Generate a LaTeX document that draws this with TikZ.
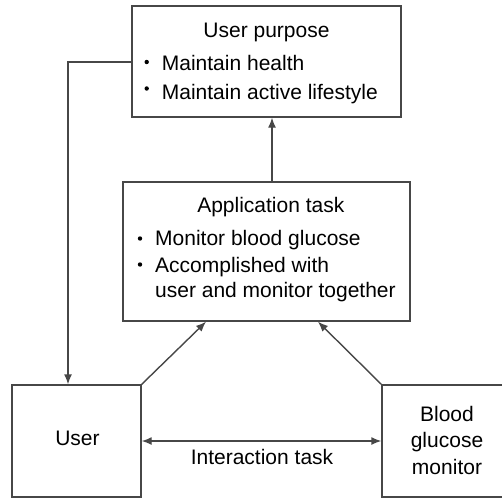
\documentclass[tikz,border=0pt]{standalone}
\usepackage{fontspec}
\setmainfont{Liberation Sans}
\usetikzlibrary{arrows.meta}
\definecolor{lc}{rgb}{0.28,0.28,0.28}
\definecolor{tc}{rgb}{0,0,0}
\begin{document}
\begin{tikzpicture}[x=1pt,y=-1pt,
  box/.style={draw=lc,line width=1.4pt,inner sep=0pt},
  txt/.style={anchor=base,inner sep=0pt,text=tc,font=\fontsize{21}{26}\selectfont},
  txtl/.style={txt,anchor=base west},
  dot/.style={circle,fill=tc,inner sep=0pt,minimum size=4.4pt},
  arr/.style={draw=lc,line width=1.4pt,-{Latex[length=10pt,width=8pt]}},
  arrs/.style={draw=lc,line width=1.4pt,{Latex[length=10pt,width=8pt]}-{Latex[length=10pt,width=8pt]}},
  ln/.style={draw=lc,line width=1.4pt}]
\useasboundingbox (0,0) rectangle (502,498);
\clip (0,0) rectangle (502,498);
% User purpose
\node[box,minimum width=269pt,minimum height=111pt] (up) at (266.5,61.5) {};
\node[txt] (uptitle) at (266.5,37.3) {User purpose};
\node[dot] (ub1) at (146.7,62) {};
\node[txtl] (ut1) at (161.7,70.7) {Maintain health};
\node[dot] (ub2) at (146.7,88.5) {};
\node[txtl] (ut2) at (161.7,99.3) {Maintain active lifestyle};
% Application task
\node[box,minimum width=287pt,minimum height=139pt] (app) at (266.5,251.5) {};
\node[txt] (apptitle) at (270.8,212.7) {Application task};
\node[dot] (ab1) at (140,238.5) {};
\node[txtl] (at1) at (155,245) {Monitor blood glucose};
\node[dot] (ab2) at (140,264.5) {};
\node[txtl] (at2) at (155,272.7) {Accomplished with};
\node[txtl] (at3) at (155,297.7) {user and monitor together};
% User
\node[box,minimum width=129pt,minimum height=112pt] (user) at (76.5,441) {};
\node[txt] (usert) at (77.5,445) {User};
% Blood glucose monitor
\node[box,minimum width=130pt,minimum height=112pt] (bgm) at (447,441) {};
\node[txt] (bg1) at (447,421.7) {Blood};
\node[txt] (bg2) at (447,447.7) {glucose};
\node[txt] (bg3) at (447,474.5) {monitor};
% connectors
\draw[arr] ([xshift=5.5pt]app.north) -- ([xshift=5.5pt]up.south);
\draw[arr] (up.west |- ub1) -| ([xshift=-8.5pt]user.north);
\draw[arr] (user.north east) -- ([xshift=-60.5pt]app.south);
\draw[arr] (bgm.north west) -- ([xshift=51.5pt]app.south);
\draw[arrs] (user.east) -- (bgm.west);
\node[txt] (inter) at (262,464) {Interaction task};
\end{tikzpicture}
\end{document}
